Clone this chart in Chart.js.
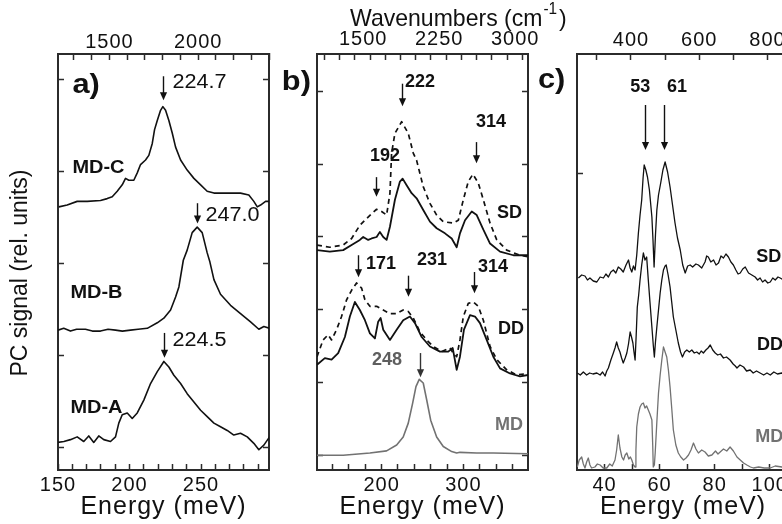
<!DOCTYPE html>
<html><head><meta charset="utf-8">
<script src="https://cdn.jsdelivr.net/npm/chart.js@4"></script>
<style>
html,body{margin:0;padding:0;background:#fff;overflow:hidden;}
#wrap{position:relative;width:782px;height:524px;overflow:hidden;background:#fff;}
canvas{position:absolute;top:0;}
</style></head><body>
<div id="wrap">
<canvas id="ca" width="290" height="524" style="left:0px;width:290px;height:524px"></canvas>
<canvas id="cb" width="300" height="524" style="left:275px;width:300px;height:524px"></canvas>
<canvas id="cc" width="315" height="524" style="left:530px;width:315px;height:524px"></canvas>
</div>
<script>
// ---------------- DATA ----------------
// Panel a) energies (meV) and signals (rel. units, curves offset)
const A_MDC_E = [150.6,156.4,163.4,170.4,179.7,184.4,187.9,191.4,194.9,197.2,199.5,203.0,205.4,207.7,211.2,213.5,215.9,217.5,219.4,221.7,223.3,225.2,227.5,229.9,232.2,235.7,240.3,245.0,249.7,254.3,259.0,268.3,277.6,283.4,286.9,289.3,291.6,295.1,297.9];
const A_MDC_V = [2.61,2.63,2.67,2.67,2.68,2.70,2.72,2.78,2.85,2.92,2.90,2.90,2.98,3.07,3.12,3.17,3.30,3.45,3.55,3.66,3.70,3.66,3.55,3.41,3.26,3.12,3.01,2.92,2.85,2.78,2.76,2.76,2.76,2.74,2.67,2.61,2.63,2.67,2.67];
const A_MDB_E = [150,154,158.7,163,169.2,174,179.7,185,190.2,195,200.7,206,212.4,219.4,224.0,228.7,232.2,234.5,237.6,240.3,243.8,247.3,250.8,254.3,256.2,259.0,263.6,270.6,277.6,284.6,290.4,293.9,297.9];
const A_MDB_V = [1.27,1.29,1.26,1.28,1.28,1.26,1.26,1.28,1.27,1.26,1.27,1.28,1.29,1.35,1.40,1.49,1.63,1.74,2.03,2.14,2.33,2.39,2.33,2.11,2.01,1.82,1.66,1.54,1.45,1.36,1.28,1.31,1.29];
const A_MDA_E = [149.9,154.1,158.7,163.4,168.0,171.5,175.0,178.5,182.0,186.7,190.2,192.5,194.9,198.4,201.9,205.4,210.0,214.7,219.4,224.0,227.5,231.0,235.7,240.3,245.0,249.7,254.3,259.0,263.6,268.3,272.9,277.6,282.3,286.9,290.4,293.9,297.9];
const A_MDA_V = [0.05,0.06,0.08,0.11,0.06,0.12,0.05,0.12,0.08,0.06,0.11,0.26,0.35,0.37,0.31,0.37,0.51,0.69,0.82,0.93,0.87,0.78,0.69,0.58,0.49,0.40,0.33,0.26,0.22,0.18,0.13,0.15,0.11,0.04,-0.03,0.02,0.11];

// Panel b)
const B_SD_E  = [121,136.7,153.0,163.3,173.4,177.5,183.6,187.8,193.9,197.9,202.0,206.1,210.2,216.3,222.4,225.7,230.6,236.7,242.8,250.9,259.1,267.3,277.5,285.7,291.8,295.8,302.0,310.2,316.3,324.4,332.6,344.8,361.1,379];
const B_SD_V  = [2.82,2.80,2.82,2.89,2.96,3.00,2.96,2.98,3.00,3.07,3.00,2.96,3.14,3.51,3.76,3.80,3.71,3.60,3.53,3.37,3.21,3.12,3.05,2.98,2.86,3.05,3.23,3.35,3.30,3.10,2.91,2.80,2.75,2.75];
const B_SDd_E = [121,136.7,153.0,163.3,173.4,179.6,187.8,193.9,200.0,206.1,210.2,212.2,216.3,224.5,232.6,238.7,242.8,250.9,259.1,267.3,275.4,287.6,293.8,299.9,306.0,311.7,318.2,324.4,332.6,340.8,353.0,369.3,379];
const B_SDd_V = [2.89,2.86,2.89,2.98,3.16,3.23,3.32,3.38,3.35,3.30,3.60,4.15,4.42,4.58,4.42,4.15,4.05,3.69,3.46,3.30,3.21,3.19,3.23,3.51,3.76,3.86,3.74,3.51,3.19,2.96,2.82,2.75,2.73];
const B_DD_E  = [121,130.6,138.8,146.9,155.1,161.2,167.3,173.4,179.6,185.7,191.8,195.8,198.8,202.0,210.2,218.4,226.4,234.6,240.8,249.0,259.1,271.4,281.5,286.9,291.8,295.8,300.7,308.1,314.2,320.3,328.5,336.6,344.8,357.0,369.3,379];
const B_DD_V  = [1.25,1.34,1.32,1.41,1.63,1.91,2.11,2.00,1.86,1.68,1.61,1.84,1.89,1.73,1.59,1.73,1.86,1.91,1.82,1.63,1.50,1.43,1.43,1.48,1.18,1.36,1.73,1.93,1.91,1.82,1.59,1.36,1.20,1.13,1.09,1.11];
const B_DDd_E = [121,128.5,134.6,138.8,144.9,151.0,157.2,163.3,169.4,175.5,179.6,185.7,193.9,202.0,210.2,218.4,226.4,232.6,238.7,246.9,255.1,263.2,273.4,283.6,287.6,291.8,295.8,299.9,306.0,312.1,318.2,324.4,332.6,340.8,353.0,365.2,379];
const B_DDd_V = [1.36,1.59,1.66,1.59,1.73,1.91,2.14,2.27,2.37,2.30,2.14,2.05,2.05,2.00,1.95,1.95,2.00,1.98,1.89,1.70,1.59,1.50,1.43,1.48,1.41,1.36,1.59,1.91,2.09,2.11,2.05,1.86,1.50,1.32,1.18,1.11,1.13];
const B_MD_E  = [121,153.0,185.7,206.1,218.4,226.4,232.6,237.9,242.0,246.0,250.9,255.1,260.0,267.3,275.4,285.7,291.8,295.8,316.3,336.6,379];
const B_MD_V  = [0.01,0.01,0.04,0.07,0.15,0.26,0.45,0.72,0.95,1.05,1.00,0.77,0.49,0.26,0.13,0.06,0.04,0.05,0.04,0.04,0.03];

// Panel c)
const C_SD_E = [30.5,31.7,32.9,33.8,34.7,35.9,37.2,38.4,39.6,40.5,41.4,42.3,43.2,44.1,45.0,45.9,46.8,47.8,48.7,49.3,49.9,50.5,51.1,51.7,52.3,52.9,53.5,54.0,54.4,55.0,55.6,56.3,57.2,57.6,58.0,58.5,59.0,59.6,60.4,61.2,62.0,62.9,63.8,64.7,65.6,66.5,67.5,68.4,69.3,70.2,71.1,72.0,73.2,74.1,75.3,76.5,77.1,77.7,78.6,79.6,80.5,81.4,82.3,83.2,84.1,85.0,85.9,86.8,87.7,88.5,89.3,90.2,91.1,92.3,93.5,94.7,95.6,96.5,97.4,98.3,99.3,100.2,101.1,102.0,103.0,103.8,105,107];
const C_SD_V = [1.92,1.95,1.94,1.90,1.92,1.89,1.88,1.93,1.92,1.96,1.93,1.98,2.00,1.97,2.03,2.01,1.98,2.05,2.10,2.02,1.98,2.04,2.00,2.15,2.37,2.55,2.70,2.92,3.05,3.00,2.93,2.80,2.53,2.30,2.03,2.35,2.60,2.75,2.87,3.00,3.08,2.98,2.83,2.65,2.47,2.32,2.20,2.05,1.97,2.04,2.05,2.03,2.06,2.05,2.02,2.08,2.14,2.13,2.08,2.10,2.05,2.07,2.14,2.12,2.16,2.13,2.08,2.05,2.00,1.96,1.97,2.01,2.03,1.97,1.95,1.93,1.90,1.92,1.88,1.90,1.87,1.88,1.92,1.90,1.93,1.92,1.90,1.91];
const C_DD_E = [30.1,31.2,32.3,33.5,34.6,35.8,37.2,38.4,39.3,40.2,40.8,41.4,42.3,43.2,43.8,44.4,45.0,45.6,46.2,46.8,47.5,48.1,48.7,49.3,49.8,50.3,50.7,51.1,51.5,51.9,52.4,52.9,53.5,54.1,54.7,55.3,55.9,56.5,57.2,57.7,58.1,58.5,59.0,59.6,60.2,60.8,61.4,62.0,62.4,63.1,63.8,64.4,65.0,65.9,66.8,67.6,68.3,69.1,69.9,70.8,71.7,72.6,73.5,74.4,75.1,75.9,76.8,77.6,78.4,79.3,80.2,81.1,82.1,83.2,84.3,85.6,86.7,87.5,88.1,89.2,90.5,91.6,92.9,94.0,95.2,96.5,97.8,99.0,100.2,101.5,102.8,104.4,107];
const C_DD_V = [0.97,0.95,0.98,0.95,0.97,0.96,0.97,0.95,0.98,0.94,0.99,1.02,1.10,1.17,1.22,1.28,1.22,1.18,1.12,1.07,1.12,1.17,1.26,1.38,1.33,1.27,1.18,1.10,1.35,1.63,1.75,1.90,2.05,2.17,2.10,2.13,1.90,1.68,1.43,1.25,1.13,1.28,1.43,1.60,1.77,1.90,2.00,2.04,2.05,1.95,1.83,1.68,1.53,1.40,1.27,1.18,1.13,1.18,1.20,1.18,1.20,1.17,1.18,1.16,1.19,1.17,1.20,1.22,1.25,1.20,1.17,1.15,1.16,1.12,1.13,1.10,1.06,1.04,1.02,1.05,1.03,0.99,1.00,0.97,0.99,0.97,0.95,0.97,0.95,0.98,0.96,0.97,0.96];
const C_MD_E = [30.1,30.8,31.7,32.3,32.9,33.5,34.1,34.7,35.3,36.5,37.4,38.4,39.5,40.8,41.9,42.8,43.8,44.4,45.0,45.6,46.3,46.9,47.5,48.1,48.8,49.4,49.9,50.5,51.1,51.4,51.7,52.3,52.9,53.5,54.1,54.7,55.3,55.9,56.5,57.2,57.5,57.7,58.1,58.4,59.0,59.6,60.2,60.8,61.4,62.0,62.6,63.2,63.8,64.4,65.0,65.9,66.8,67.7,68.7,69.6,70.5,71.4,72.3,73.2,74.1,75.3,76.5,77.7,79.0,80.3,81.2,82.0,83.2,84.4,85.6,86.8,88.1,89.3,90.5,91.7,93.0,94.1,96,98,100.2,102,104.4,107];
const C_MD_V = [0.03,0.10,0.13,0.06,0.02,0.08,0.12,0.05,0.02,0.03,0.06,0.05,0.02,0.02,0.06,0.04,0.10,0.20,0.35,0.22,0.13,0.10,0.15,0.17,0.11,0.13,0.10,0.05,0.03,0.20,0.43,0.56,0.63,0.66,0.67,0.62,0.64,0.60,0.56,0.50,0.25,0.03,0.05,0.17,0.48,0.77,0.95,1.10,1.23,1.18,1.13,1.00,0.83,0.62,0.40,0.25,0.17,0.13,0.10,0.12,0.15,0.20,0.27,0.21,0.17,0.20,0.18,0.14,0.15,0.19,0.16,0.18,0.21,0.19,0.23,0.19,0.13,0.10,0.07,0.05,0.03,0.02,0.03,0.02,0.02,0.04,0.03,0.02];

// Tick values and labelled ticks
const A_X_TICKS = [150,160,170,180,190,200,210,220,230,240,250,260,270,280,290];
const A_X_LABELS = [150,200,250];
const A_TOP_TICKS = [1300,1400,1500,1600,1700,1800,1900,2000,2100,2200,2300,2400];
const A_TOP_LABELS = [1500,2000];
const A_Y_TICKS = [0,1,2,3,4];
const B_X_TICKS = [140,160,180,200,220,240,260,280,300,320,340,360];
const B_X_LABELS = [200,300];
const B_TOP_TICKS = [1050,1200,1350,1500,1650,1800,1950,2100,2250,2400,2550,2700,2850,3000];
const B_TOP_LABELS = [1500,2250,3000];
const B_Y_TICKS = [0,1,2,3,4,5];
const C_X_TICKS = [40,50,60,70,80,90,100];
const C_X_LABELS = [40,60,80,100];
const C_TOP_TICKS = [300,400,500,600,700,800];
const C_TOP_LABELS = [400,600,800];
const C_Y_TICKS = [2.97];

// ---------------- STYLE / HELPERS ----------------
const FONT = '"Liberation Sans", Arial, Helvetica, sans-serif';
const INK = '#111111';
const FRAME = '#2b2b2b';
const GREY = '#727272';
const MEV_TO_CM = 8.0655;

const pts = (E, V) => E.map((e, i) => ({x: e, y: V[i]}));
const setTicks = vals => s => { s.ticks = vals.map(v => ({value: v})); };

function bottomAxis(min, max, ticks, labels) {
  return {
    type: 'linear', position: 'bottom', min, max, bounds: 'data',
    afterBuildTicks: setTicks(ticks),
    afterFit: s => { s.height = 54; s.paddingLeft = 0; s.paddingRight = 0; },
    grid: {drawOnChartArea: false, drawTicks: true, tickLength: -6, tickColor: FRAME, tickWidth: 1.5},
    border: {display: true, color: FRAME, width: 2},
    ticks: {autoSkip: false, maxRotation: 0, padding: 9, color: INK, font: {family: FONT, size: 20},
            callback: v => labels.includes(v) ? String(v) : ''},
    title: {display: true, text: 'Energy (meV)', color: INK, font: {family: FONT, size: 25}, padding: {top: 0, bottom: 2}}
  };
}
function topAxis(min, max, ticks, labels, pad, shift) {
  return {
    type: 'linear', position: 'top', min: min * MEV_TO_CM, max: max * MEV_TO_CM, bounds: 'data',
    afterBuildTicks: setTicks(ticks),
    afterFit: s => { s.height = 54; s.paddingLeft = 0; s.paddingRight = 0; },
    grid: {drawOnChartArea: false, drawTicks: true, tickLength: -6, tickColor: FRAME, tickWidth: 1.5},
    border: {display: true, color: FRAME, width: 2},
    ticks: {autoSkip: false, maxRotation: 0, padding: pad, labelOffset: shift || 0, color: INK, font: {family: FONT, size: 20},
            callback: v => labels.includes(v) ? String(v) : ''}
  };
}
function sideAxis(pos, min, max, ticks, width) {
  return {
    type: 'linear', position: pos, min, max, bounds: 'data',
    afterBuildTicks: setTicks(ticks),
    afterFit: s => { s.width = width; s.paddingTop = 0; s.paddingBottom = 0; },
    grid: {drawOnChartArea: false, drawTicks: true, tickLength: -6, tickColor: FRAME, tickWidth: 1.5},
    border: {display: true, color: FRAME, width: 2},
    ticks: {display: false}
  };
}
function line(E, V, color, width, dash) {
  return {data: pts(E, V), showLine: true, pointRadius: 0, borderColor: color, borderWidth: width,
          borderDash: dash || [], borderJoinStyle: 'round', fill: false, tension: 0};
}

function annPlugin(arrows, labels, extra) {
  return {
    id: 'ann',
    beforeDraw(c) { c.ctx.letterSpacing = '1px'; },
    afterDraw(c) {
      const ctx = c.ctx, xs = c.scales.x, ys = c.scales.y;
      ctx.save();
      ctx.letterSpacing = '0px';
      arrows.forEach(a => {
        const px = Math.round(xs.getPixelForValue(a.x)) + 0.5;
        const p1 = ys.getPixelForValue(a.from), p2 = ys.getPixelForValue(a.to);
        ctx.strokeStyle = a.color || INK; ctx.fillStyle = a.color || INK; ctx.lineWidth = 1.4;
        ctx.beginPath(); ctx.moveTo(px, p1); ctx.lineTo(px, p2 - 6); ctx.stroke();
        ctx.beginPath(); ctx.moveTo(px - 3.6, p2 - 8); ctx.lineTo(px + 3.6, p2 - 8); ctx.lineTo(px, p2); ctx.closePath(); ctx.fill();
      });
      labels.forEach(t => {
        const px = xs.getPixelForValue(t.x), py = ys.getPixelForValue(t.y);
        ctx.save(); ctx.translate(px, py); ctx.scale(t.sx || 1, 1);
        ctx.font = t.font; ctx.fillStyle = t.color || INK; ctx.textAlign = 'left'; ctx.textBaseline = 'middle';
        ctx.fillText(t.text, 0, 0); ctx.restore();
      });
      if (extra) extra(ctx);
      ctx.restore();
    }
  };
}

const F_LET = `bold 28px ${FONT}`;
const F_NUM = `20px ${FONT}`;
const F_MD = `bold 19px ${FONT}`;
const F_B = `bold 18px ${FONT}`;

const baseOpts = (scales, padRight) => ({
  responsive: false, animation: false, events: [],
  layout: {padding: {left: 0, right: padRight || 0, top: 0, bottom: 0}},
  plugins: {legend: {display: false}, tooltip: {enabled: false}},
  scales
});

// ---------------- PANEL A ----------------
new Chart(document.getElementById('ca'), {
  type: 'scatter',
  data: {datasets: [
    line(A_MDC_E, A_MDC_V, INK, 1.6),
    line(A_MDB_E, A_MDB_V, INK, 1.6),
    line(A_MDA_E, A_MDA_V, INK, 1.6)
  ]},
  options: baseOpts({
    x: bottomAxis(150, 297.5, A_X_TICKS, A_X_LABELS),
    x2: topAxis(150, 297.5, A_TOP_TICKS, A_TOP_LABELS, 6),
    y: sideAxis('left', -0.25, 4.272, A_Y_TICKS, 58),
    y2: sideAxis('right', -0.25, 4.272, A_Y_TICKS, 21)
  }),
  plugins: [annPlugin(
    [{x: 223.3, from: 4.03, to: 3.77}, {x: 247.3, from: 2.65, to: 2.43}, {x: 223.8, from: 1.24, to: 0.97}],
    [{text: 'a)', x: 160.1, y: 3.93, font: F_LET, sx: 1.1},
     {text: '224.7', x: 230.1, y: 3.96, font: F_NUM, sx: 1.08},
     {text: '247.0', x: 253.1, y: 2.52, font: F_NUM, sx: 1.08},
     {text: '224.5', x: 230.1, y: 1.16, font: F_NUM, sx: 1.08},
     {text: 'MD-C', x: 160.1, y: 3.04, font: F_MD, sx: 1.05},
     {text: 'MD-B', x: 158.7, y: 1.68, font: F_MD, sx: 1.05},
     {text: 'MD-A', x: 158.7, y: 0.43, font: F_MD, sx: 1.05}],
    ctx => {
      ctx.save(); ctx.translate(21, 273); ctx.rotate(-Math.PI / 2);
      ctx.font = `23px ${FONT}`; ctx.fillStyle = INK; ctx.textAlign = 'center'; ctx.textBaseline = 'middle';
      ctx.fillText('PC signal (rel. units)', 0, 0); ctx.restore();
    })]
});

// ---------------- PANEL B ----------------
new Chart(document.getElementById('cb'), {
  type: 'scatter',
  data: {datasets: [
    line(B_SDd_E, B_SDd_V, INK, 1.7, [5, 4]),
    line(B_SD_E, B_SD_V, INK, 1.8),
    line(B_DDd_E, B_DDd_V, INK, 1.7, [5, 4]),
    line(B_DD_E, B_DD_V, INK, 1.8),
    line(B_MD_E, B_MD_V, GREY, 1.6)
  ]},
  options: baseOpts({
    x: bottomAxis(121, 379, B_X_TICKS, B_X_LABELS),
    x2: topAxis(121, 379, B_TOP_TICKS, B_TOP_LABELS, 8.5, -7),
    y: sideAxis('left', -0.192, 5.507, B_Y_TICKS, 42),
    y2: sideAxis('right', -0.192, 5.507, B_Y_TICKS, 47)
  }),
  plugins: [annPlugin(
    [{x: 224.5, from: 5.10, to: 4.79}, {x: 315.4, from: 4.30, to: 4.01}, {x: 192.7, from: 3.82, to: 3.55},
     {x: 171.4, from: 2.75, to: 2.45}, {x: 231.8, from: 2.47, to: 2.18}, {x: 313.3, from: 2.52, to: 2.23},
     {x: 246.5, from: 1.41, to: 1.08, color: '#333'}],
    [{text: 'b)', x: 78.0, y: 5.12, font: F_LET, sx: 1.1},
     {text: '222', x: 228.5, y: 5.12, font: F_B},
     {text: '314', x: 315.4, y: 4.58, font: F_B},
     {text: '192', x: 185.7, y: 4.11, font: F_B},
     {text: '171', x: 180.8, y: 2.63, font: F_B},
     {text: '231', x: 243.2, y: 2.68, font: F_B},
     {text: '314', x: 317.9, y: 2.59, font: F_B},
     {text: 'SD', x: 341.1, y: 3.33, font: F_B},
     {text: 'DD', x: 342.4, y: 1.74, font: F_B},
     {text: '248', x: 188.1, y: 1.32, font: F_B, color: '#5e5e5e'},
     {text: 'MD', x: 338.7, y: 0.42, font: F_B, color: GREY}],
    ctx => {
      ctx.save(); ctx.translate(75, 26); ctx.scale(0.96, 1);
      ctx.fillStyle = INK; ctx.textAlign = 'left'; ctx.textBaseline = 'alphabetic';
      ctx.font = `24px ${FONT}`;
      const main = 'Wavenumbers (cm';
      const w = ctx.measureText(main).width; ctx.fillText(main, 0, 0);
      ctx.font = `16px ${FONT}`;
      const w2 = ctx.measureText('-1').width; ctx.fillText('-1', w + 1, -12);
      ctx.font = `24px ${FONT}`; ctx.fillText(')', w + w2 + 3, 0);
      ctx.restore();
    })]
});

// ---------------- PANEL C ----------------
new Chart(document.getElementById('cc'), {
  type: 'scatter',
  data: {datasets: [
    line(C_SD_E, C_SD_V, INK, 1.3),
    line(C_DD_E, C_DD_V, INK, 1.3),
    line(C_MD_E, C_MD_V, GREY, 1.3)
  ]},
  options: baseOpts({
    x: bottomAxis(30, 107, C_X_TICKS, C_X_LABELS),
    x2: topAxis(30, 107, C_TOP_TICKS, C_TOP_LABELS, 7.5),
    y: sideAxis('left', 0, 4.16, C_Y_TICKS, 47)
  }, 56),
  plugins: [annPlugin(
    [{x: 54.7, from: 3.65, to: 3.20}, {x: 61.6, from: 3.65, to: 3.20}],
    [{text: 'c)', x: 15.8, y: 3.90, font: F_LET, sx: 1.1},
     {text: '53', x: 49.3, y: 3.83, font: F_B},
     {text: '61', x: 62.7, y: 3.83, font: F_B},
     {text: 'SD', x: 95.1, y: 2.13, font: F_B},
     {text: 'DD', x: 95.4, y: 1.25, font: F_B},
     {text: 'MD', x: 94.7, y: 0.33, font: F_B, color: GREY}])]
});
</script>
</body></html>
